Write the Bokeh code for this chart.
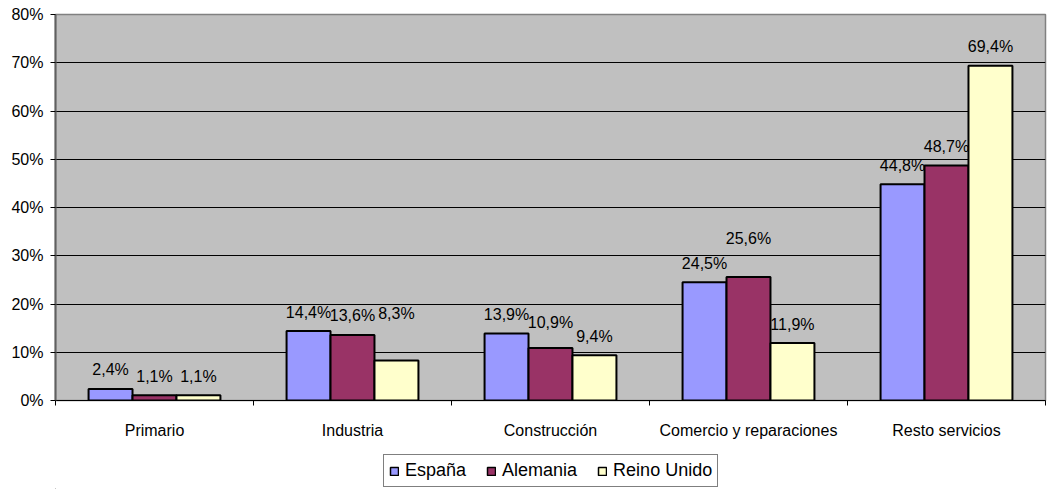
from bokeh.plotting import figure
from bokeh.models import Range1d, FixedTicker, Legend, LegendItem, ColumnDataSource
from bokeh.layouts import column
from bokeh.core.properties import value
from bokeh.embed import file_html
from bokeh.resources import INLINE
import numpy as np

categories = ["Primario", "Industria", "Construcción", "Comercio y reparaciones", "Resto servicios"]
series_names = ["España", "Alemania", "Reino Unido"]
espana = [2.4, 14.4, 13.9, 24.5, 44.8]
alemania = [1.1, 13.6, 10.9, 25.6, 48.7]
reino_unido = [1.1, 8.3, 9.4, 11.9, 69.4]
y_ticks = [0, 10, 20, 30, 40, 50, 60, 70, 80]

# styling
colors = ["#9999FF", "#993366", "#FFFFCC"]
offsets = [-0.222, 0.0, 0.222]
bar_w = 0.222
label_nudge = [[0, 0, 0, 0, 0], [0, 0, -6, -19, 0], [0, -28, 0, 0, 0]]
FONT = "Liberation Sans"

p = figure(width=1047, height=445, output_backend="svg", toolbar_location=None,
           x_range=Range1d(-0.5, 4.5), y_range=Range1d(0, 80),
           min_border_left=55, min_border_right=2, min_border_top=14, min_border_bottom=45)
p.border_fill_color = "white"
p.background_fill_color = "#C0C0C0"
p.outline_line_color = "#808080"
p.outline_line_width = 1.5

idx = np.arange(len(categories))
series = [espana, alemania, reino_unido]
renderers = []
for s, vals, col, off, nud in zip(series_names, series, colors, offsets, label_nudge):
    src = ColumnDataSource(dict(x=idx + off, top=vals,
                                lab=[f"{v:.1f}%".replace(".", ",") for v in vals],
                                dy=[-19 + n for n in nud]))
    r = p.vbar(x="x", top="top", width=bar_w, bottom=0, source=src,
               fill_color=col, line_color="black", line_width=2)
    renderers.append(r)
    p.text(x="x", y="top", text="lab", source=src, y_offset="dy",
           text_align="center", text_baseline="middle",
           text_font=value(FONT), text_font_size="16px", text_color="black")

# grid
p.xgrid.grid_line_color = None
p.ygrid.ticker = FixedTicker(ticks=y_ticks)
p.ygrid.grid_line_color = "black"
p.ygrid.grid_line_width = 1

# y axis
p.yaxis.ticker = FixedTicker(ticks=y_ticks)
p.yaxis.major_label_overrides = {t: f"{t}%" for t in y_ticks}
p.yaxis.major_label_text_font = FONT
p.yaxis.major_label_text_font_size = "16px"
p.yaxis.major_label_text_color = "black"
p.yaxis.major_tick_out = 5
p.yaxis.major_tick_in = 0
p.yaxis.minor_tick_line_color = None
p.yaxis.major_label_standoff = 7
p.yaxis.axis_line_color = "#606060"
p.yaxis.axis_line_width = 2
p.yaxis.major_tick_line_color = "black"

# x axis
centers = list(range(len(categories)))
bounds = [i - 0.5 for i in range(len(categories) + 1)]
p.xaxis.ticker = FixedTicker(ticks=centers, minor_ticks=bounds)
p.xaxis.major_label_overrides = {i: c for i, c in enumerate(categories)}
p.xaxis.major_tick_line_color = None
p.xaxis.minor_tick_line_color = "black"
p.xaxis.minor_tick_out = 5
p.xaxis.minor_tick_in = 0
p.xaxis.major_label_standoff = 15
p.xaxis.major_label_text_font = FONT
p.xaxis.major_label_text_font_size = "16px"
p.xaxis.major_label_text_color = "black"
p.xaxis.axis_line_color = "black"

# legend in its own strip below the chart
lf = figure(width=1047, height=44, output_backend="svg", toolbar_location=None,
            x_range=Range1d(0, 1), y_range=Range1d(0, 1),
            x_axis_location=None, y_axis_location=None,
            min_border_left=0, min_border_right=0, min_border_top=0, min_border_bottom=0)
lf.outline_line_color = None
lf.background_fill_color = "white"
lf.border_fill_color = "white"
lf.xgrid.grid_line_color = None
lf.ygrid.grid_line_color = None
dummies = []
for col in colors:
    dummies.append(lf.vbar(x=[-50], top=[-50], bottom=[-51], width=0.1,
                           fill_color=col, line_color="black", line_width=1.5))
legend = Legend(items=[LegendItem(label=n, renderers=[r]) for n, r in zip(series_names, dummies)],
                orientation="horizontal", location=(328, 2),
                label_text_font=FONT, label_text_font_size="18px", label_text_color="black",
                glyph_width=10, glyph_height=10, label_standoff=6, spacing=20,
                padding=5, margin=0, border_line_color="black", border_line_width=1,
                background_fill_color="white", background_fill_alpha=1.0)
lf.add_layout(legend, "center")

open("out.html", "w").write(file_html(column(p, lf, spacing=0), INLINE))
